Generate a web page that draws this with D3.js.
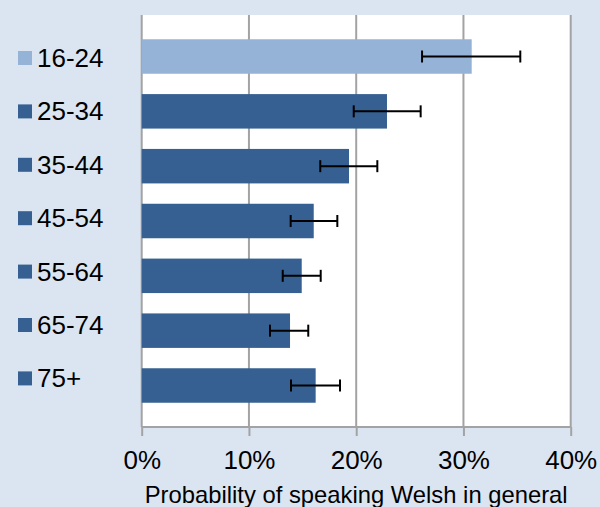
<!DOCTYPE html>
<html>
<head>
<meta charset="utf-8">
<script src="https://cdn.jsdelivr.net/npm/d3@7"></script>
<style>
  html, body { margin: 0; padding: 0; background: #dbe5f1; }
  svg { display: block; }
  text { font-family: "Liberation Sans", Arial, sans-serif; fill: #000; }
</style>
</head>
<body>
<svg id="chart" width="600" height="507"></svg>
<script>
const categories = ["16-24", "25-34", "35-44", "45-54", "55-64", "65-74", "75+"];
const values     = [30.77, 22.87, 19.33, 16.04, 14.92, 13.83, 16.22];
const errLow     = [26.14, 19.77, 16.65, 13.89, 13.15, 11.96, 13.92];
const errHigh    = [35.30, 26.01, 21.97, 18.24, 16.69, 15.53, 18.49];
const tickValues = [0, 10, 20, 30, 40];
const barColors  = ["#95b3d7", "#366092", "#366092", "#366092", "#366092", "#366092", "#366092"];
const axisTitle  = "Probability of speaking Welsh in general";

(function () {
const svg = d3.select("#chart");
const W = 600, H = 507;
const pL = 141.7, pR = 570.7, pT = 15, pB = 427;

svg.append("rect").attr("width", W).attr("height", H).attr("fill", "#dbe5f1");

const x = d3.scaleLinear().domain([0, 40]).range([pL, pR]);
const y = d3.scaleBand().domain(categories).range([pT, pB])
  .paddingInner(0.371).paddingOuter(0.4425);
const yLegend = d3.scalePoint().domain(categories).range([58, 378.4]);

// plot area
svg.append("rect").attr("x", pL).attr("y", pT)
  .attr("width", pR - pL).attr("height", pB - pT).attr("fill", "#ffffff");

// gridlines
svg.append("g").selectAll("line").data(tickValues).join("line")
  .attr("x1", d => x(d)).attr("x2", d => x(d))
  .attr("y1", pT).attr("y2", pB)
  .attr("stroke", "#a3a3a3").attr("stroke-width", 2);

// x axis
const axis = d3.axisBottom(x).tickValues(tickValues).tickFormat(d => d + "%")
  .tickSize(9).tickPadding(14.5);
const gx = svg.append("g").attr("transform", `translate(0,${pB})`).call(axis);
gx.select(".domain").attr("stroke", "#a3a3a3").attr("stroke-width", 2)
  .attr("d", `M${pL},0H${pR}`);
gx.selectAll(".tick line").attr("stroke", "#a3a3a3").attr("stroke-width", 2);
gx.selectAll(".tick text").style("font-size", "26px")
  .style("font-family", "'Liberation Sans', Arial, sans-serif").attr("fill", "#000");

// bars
const rows = categories.map((c, i) => ({ c, v: values[i], lo: errLow[i], hi: errHigh[i], col: barColors[i] }));
svg.append("g").selectAll("rect").data(rows).join("rect")
  .attr("x", x(0)).attr("y", d => y(d.c))
  .attr("width", d => x(d.v) - x(0)).attr("height", y.bandwidth())
  .attr("fill", d => d.col);

// error bars
const eb = svg.append("g").attr("stroke", "#000").attr("stroke-width", 2);
rows.forEach(d => {
  const cy = y(d.c) + y.bandwidth() / 2;
  eb.append("line").attr("x1", x(d.lo)).attr("x2", x(d.hi)).attr("y1", cy).attr("y2", cy);
  eb.append("line").attr("x1", x(d.lo)).attr("x2", x(d.lo)).attr("y1", cy - 6).attr("y2", cy + 6);
  eb.append("line").attr("x1", x(d.hi)).attr("x2", x(d.hi)).attr("y1", cy - 6).attr("y2", cy + 6);
});

// legend
const lg = svg.append("g");
rows.forEach(d => {
  const cy = yLegend(d.c);
  lg.append("rect").attr("x", 18).attr("y", cy - 7).attr("width", 14).attr("height", 14).attr("fill", d.col);
  lg.append("text").attr("x", 37).attr("y", cy + 9).style("font-size", "26px").text(d.c);
});

// axis title
svg.append("text").attr("x", (pL + pR) / 2).attr("y", 503)
  .attr("text-anchor", "middle").style("font-size", "23.8px").text(axisTitle);
})();
</script>
</body>
</html>
